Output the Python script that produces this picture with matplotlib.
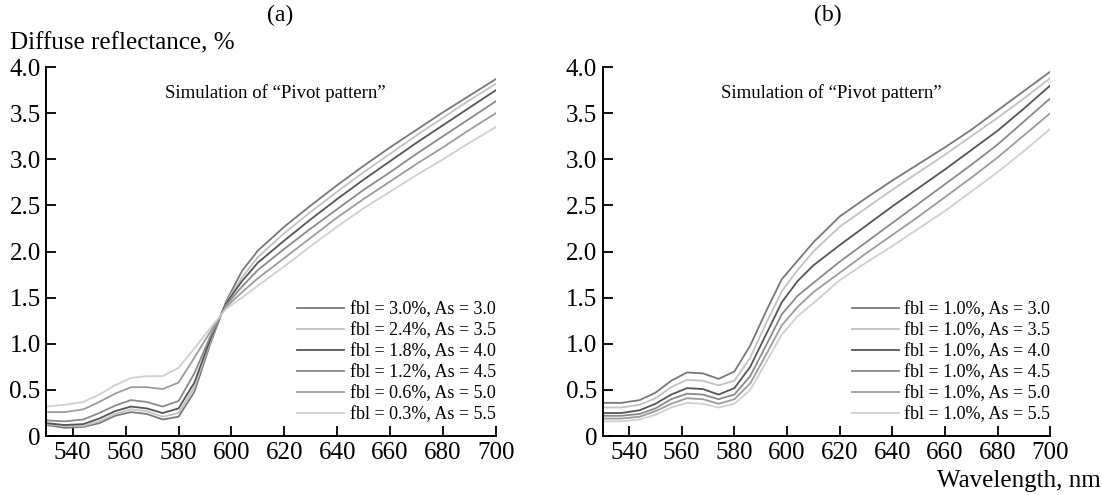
import matplotlib
matplotlib.use('Agg')
import matplotlib.pyplot as plt

plt.rcParams['font.family'] = ['Liberation Serif', 'DejaVu Serif']

# wavelength grid, nm
wl = [530, 537, 544, 550, 556, 562, 568, 574, 580, 586, 592, 598, 604,
      610, 620, 630, 640, 650, 660, 670, 680, 690, 700]

# panel (a): pivot pattern
a_labels = ['fbl = 3.0%, As = 3.0', 'fbl = 2.4%, As = 3.5', 'fbl = 1.8%, As = 4.0',
            'fbl = 1.2%, As = 4.5', 'fbl = 0.6%, As = 5.0', 'fbl = 0.3%, As = 5.5']
a1 = [0.12, 0.09, 0.10, 0.14, 0.22, 0.26, 0.24, 0.18, 0.21, 0.48, 1.00, 1.46, 1.79,
      2.01, 2.27, 2.50, 2.72, 2.93, 3.13, 3.32, 3.51, 3.69, 3.87]
a2 = [0.13, 0.11, 0.11, 0.16, 0.24, 0.29, 0.27, 0.21, 0.25, 0.53, 1.03, 1.45, 1.72,
      1.94, 2.20, 2.43, 2.65, 2.86, 3.06, 3.26, 3.45, 3.64, 3.82]
a3 = [0.14, 0.12, 0.13, 0.19, 0.27, 0.32, 0.30, 0.25, 0.30, 0.58, 1.05, 1.44, 1.68,
      1.88, 2.12, 2.35, 2.57, 2.78, 2.98, 3.18, 3.37, 3.56, 3.75]
a4 = [0.17, 0.16, 0.18, 0.25, 0.33, 0.39, 0.37, 0.32, 0.38, 0.68, 1.08, 1.42, 1.62,
      1.80, 2.03, 2.25, 2.46, 2.67, 2.86, 3.06, 3.25, 3.44, 3.63]
a5 = [0.26, 0.26, 0.29, 0.37, 0.46, 0.53, 0.53, 0.51, 0.58, 0.85, 1.13, 1.40, 1.56,
      1.71, 1.93, 2.15, 2.37, 2.57, 2.76, 2.95, 3.13, 3.32, 3.50]
a6 = [0.32, 0.34, 0.37, 0.45, 0.55, 0.63, 0.65, 0.65, 0.74, 0.95, 1.17, 1.38, 1.50,
      1.63, 1.84, 2.06, 2.27, 2.47, 2.65, 2.83, 3.00, 3.18, 3.35]

# panel (b): constant fbl
b_labels = ['fbl = 1.0%, As = 3.0', 'fbl = 1.0%, As = 3.5', 'fbl = 1.0%, As = 4.0',
            'fbl = 1.0%, As = 4.5', 'fbl = 1.0%, As = 5.0', 'fbl = 1.0%, As = 5.5']
b1 = [0.36, 0.36, 0.39, 0.47, 0.60, 0.69, 0.68, 0.62, 0.70, 0.98, 1.35, 1.70, 1.90,
      2.10, 2.38, 2.58, 2.77, 2.95, 3.13, 3.32, 3.53, 3.74, 3.95]
b2 = [0.31, 0.31, 0.34, 0.41, 0.53, 0.61, 0.60, 0.55, 0.60, 0.85, 1.22, 1.57, 1.80,
      2.00, 2.27, 2.47, 2.67, 2.86, 3.05, 3.25, 3.45, 3.66, 3.88]
b3 = [0.25, 0.25, 0.28, 0.35, 0.45, 0.52, 0.51, 0.45, 0.52, 0.75, 1.10, 1.45, 1.68,
      1.85, 2.07, 2.28, 2.49, 2.69, 2.89, 3.10, 3.31, 3.55, 3.80]
b4 = [0.22, 0.22, 0.24, 0.30, 0.40, 0.46, 0.45, 0.40, 0.45, 0.65, 0.98, 1.32, 1.52,
      1.66, 1.89, 2.10, 2.31, 2.52, 2.73, 2.94, 3.16, 3.41, 3.66]
b5 = [0.19, 0.19, 0.21, 0.27, 0.35, 0.41, 0.40, 0.35, 0.40, 0.57, 0.88, 1.20, 1.40,
      1.56, 1.77, 1.98, 2.18, 2.38, 2.59, 2.80, 3.02, 3.26, 3.50]
b6 = [0.16, 0.16, 0.18, 0.23, 0.31, 0.36, 0.35, 0.31, 0.35, 0.50, 0.80, 1.10, 1.30,
      1.44, 1.69, 1.88, 2.06, 2.25, 2.44, 2.65, 2.86, 3.09, 3.33]

colors = ['#787878', '#c2c2c2', '#555555', '#8a8a8a', '#9c9c9c', '#d0d0d0']

xticks = [540, 560, 580, 600, 620, 640, 660, 680, 700]
yticks = [0, 0.5, 1.0, 1.5, 2.0, 2.5, 3.0, 3.5, 4.0]
yticklabels = ['0', '0.5', '1.0', '1.5', '2.0', '2.5', '3.0', '3.5', '4.0']

fig = plt.figure(figsize=(11.02, 4.95), dpi=100)
ax_a = fig.add_axes([0.042, 0.119, 0.408, 0.7455])
ax_b = fig.add_axes([0.547, 0.119, 0.406, 0.7455])


def style(ax, series, labels, title, tx):
    for s, lab, c in zip(series, labels, colors):
        ax.plot(wl, s, color=c, lw=1.3, label=lab)
    ax.set_xlim(530, 700)
    ax.set_ylim(0, 4.0)
    ax.set_xticks(xticks)
    ax.set_yticks(yticks)
    ax.set_yticklabels(yticklabels)
    ax.spines['top'].set_visible(False)
    ax.spines['right'].set_visible(False)
    for sp in ['left', 'bottom']:
        ax.spines[sp].set_linewidth(1.4)
    ax.tick_params(direction='in', length=7, width=1.3, labelsize=18, pad=4)
    ax.text(tx, 1.141, title, transform=ax.transAxes, ha='center',
            va='center', fontsize=17)
    ax.text(0.51, 0.93, 'Simulation of \u201cPivot pattern\u201d', transform=ax.transAxes,
            ha='center', va='center', fontsize=13.5)
    ax.legend(loc='lower right', bbox_to_anchor=(1.0, 0.035), frameon=False,
              fontsize=13, handlelength=2.6, handletextpad=0.3,
              labelspacing=0.22, borderpad=0, borderaxespad=0)


style(ax_a, [a1, a2, a3, a4, a5, a6], a_labels, '(a)', 0.52)
style(ax_b, [b1, b2, b3, b4, b5, b6], b_labels, '(b)', 0.504)
ax_a.text(-0.08, 1.065, 'Diffuse reflectance, %', transform=ax_a.transAxes,
          ha='left', va='center', fontsize=18)
ax_b.text(1.112, -0.093, 'Wavelength, nm', transform=ax_b.transAxes,
          ha='right', va='top', fontsize=18)

fig.savefig('out.png', dpi=100)
